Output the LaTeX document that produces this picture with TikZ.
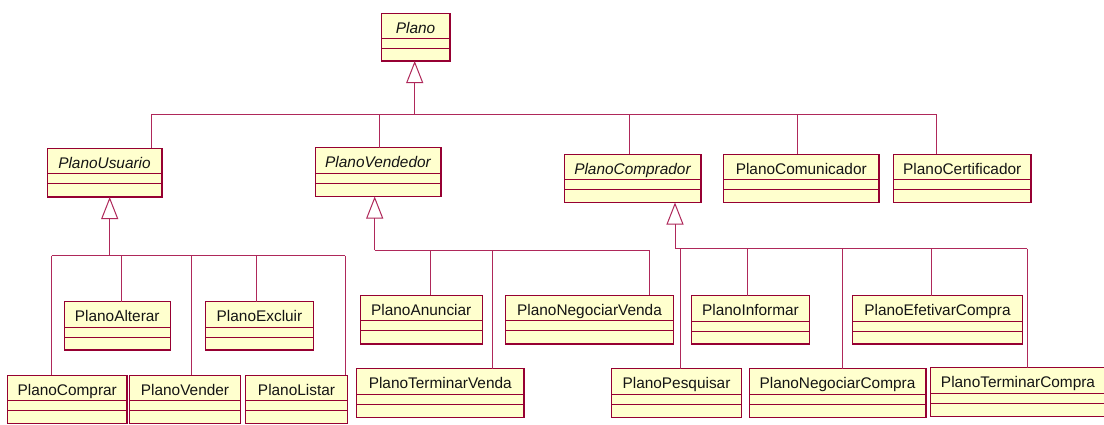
\documentclass[tikz,border=0pt]{standalone}
\usepackage{fontspec}
\setmainfont{Liberation Sans}
\usetikzlibrary{arrows.meta}

\definecolor{boxfill}{RGB}{255,255,206}
\definecolor{boxedge}{RGB}{150,0,50}
\definecolor{wire}{RGB}{175,40,90}
\definecolor{inktext}{RGB}{20,20,20}

\tikzset{
  classbox/.style={draw=boxedge, fill=boxfill, line width=1pt, inner sep=0pt, outer sep=0pt, rectangle},
  compline/.style={draw=boxedge, line width=0.9pt},
  edgeline/.style={draw=boxedge, line width=1.7pt},
  classname/.style={inner sep=0pt, anchor=base, text=inktext, font=\fontsize{15.4}{18}\selectfont},
  abstractname/.style={font=\fontsize{15.4}{18}\selectfont\itshape},
  conn/.style={draw=wire, line width=1pt},
  gen/.style={draw=wire, line width=1pt, -{Triangle[open,length=22pt,width=17pt,line width=1pt]}},
}

% class box: [name style] {node name} {left} {top} {right} {bottom} {label}
\newcommand\umlclass[7][]{%
  \node[classbox, anchor=north west,
        minimum width={(#5-#3)*1pt}, minimum height={(#6-#4)*1pt}] (#2) at (#3,#4) {};
  \draw[compline] ([yshift=-25.5pt]#2.north west) -- ([yshift=-25.5pt]#2.north east)
                  ([yshift=-35.5pt]#2.north west) -- ([yshift=-35.5pt]#2.north east);
  \draw[edgeline] (#2.north east) -- (#2.south east) -- (#2.south west);
  \node[classname,#1] (#2-name) at ([yshift=-20pt]#2.north) {#7};
}

\begin{document}
\begin{tikzpicture}[x=1pt,y=-1pt]
\fill[white] (0,0) rectangle (1104,424);
\useasboundingbox (0,0) rectangle (1104,424);

% root
\umlclass[abstractname]{plano}{381}{13}{450}{61}{Plano}

% second level
\umlclass[abstractname]{usuario}{47}{148}{162}{197}{PlanoUsuario}
\umlclass[abstractname]{vendedor}{315}{147.5}{441}{196.5}{PlanoVendedor}
\umlclass[abstractname]{comprador}{564}{154}{701}{202.5}{PlanoComprador}
\umlclass{comunicador}{723.5}{154}{879}{202.5}{PlanoComunicador}
\umlclass{certificador}{893.5}{154}{1031}{202.5}{PlanoCertificador}

% children of PlanoUsuario
\umlclass{alterar}{64}{301.5}{170.5}{350}{PlanoAlterar}
\umlclass{excluir}{205.5}{301.5}{313.5}{350}{PlanoExcluir}
\umlclass{comprar}{7.5}{375}{127}{423.5}{PlanoComprar}
\umlclass{vender}{129.5}{375}{240.5}{423.5}{PlanoVender}
\umlclass{listar}{245.5}{375}{347.5}{423.5}{PlanoListar}

% children of PlanoVendedor
\umlclass{anunciar}{360}{295}{482.5}{344}{PlanoAnunciar}
\umlclass{negvenda}{505.5}{295}{673.5}{344}{PlanoNegociarVenda}
\umlclass{termvenda}{356.5}{368.5}{524}{417.5}{PlanoTerminarVenda}

% children of PlanoComprador
\umlclass{informar}{691.5}{295.5}{809.5}{344}{PlanoInformar}
\umlclass{efetivar}{852.5}{295.5}{1022.5}{344}{PlanoEfetivarCompra}
\umlclass{pesquisar}{611.5}{368.5}{741.5}{417.5}{PlanoPesquisar}
\umlclass{negcompra}{749}{368.5}{926}{417.5}{PlanoNegociarCompra}
\umlclass{termcompra}{930}{367.5}{1106}{416.5}{PlanoTerminarCompra}

% --- generalization: Plano
\coordinate (p0) at (414.7,114);
\coordinate (pU) at (151,114);
\coordinate (pV) at (379.5,114);
\coordinate (pC) at (629.5,114);
\coordinate (pM) at (797.5,114);
\coordinate (pR) at (936.5,114);
\draw[gen] (p0) -- (p0 |- plano.south);
\draw[conn] (pU) -- (pR);
\foreach \b/\n in {pU/usuario,pV/vendedor,pC/comprador,pM/comunicador,pR/certificador}
  \draw[conn] (\b) -- (\b |- \n.north);

% --- generalization: PlanoUsuario
\coordinate (u0) at (109.7,255.7);
\coordinate (uA) at (51.7,255.7);
\coordinate (uB) at (121.7,255.7);
\coordinate (uC) at (191,255.7);
\coordinate (uD) at (256.7,255.7);
\coordinate (uE) at (345,255.7);
\draw[gen] (u0) -- (u0 |- usuario.south);
\draw[conn] (uA) -- (uE);
\foreach \b/\n in {uA/comprar,uB/alterar,uC/vender,uD/excluir,uE/listar}
  \draw[conn] (\b) -- (\b |- \n.north);

% --- generalization: PlanoVendedor
\coordinate (v0) at (374.7,250);
\coordinate (vA) at (430.3,250);
\coordinate (vB) at (492.7,250);
\coordinate (vC) at (649.3,250);
\draw[gen] (v0) -- (v0 |- vendedor.south);
\draw[conn] (v0) -- (vC);
\foreach \b/\n in {vA/anunciar,vB/termvenda,vC/negvenda}
  \draw[conn] (\b) -- (\b |- \n.north);

% --- generalization: PlanoComprador
\coordinate (c0) at (675,248.7);
\coordinate (cA) at (680.7,248.7);
\coordinate (cB) at (747.7,248.7);
\coordinate (cC) at (842.3,248.7);
\coordinate (cD) at (931.3,248.7);
\coordinate (cE) at (1027.3,248.7);
\draw[gen] (c0) -- (c0 |- comprador.south);
\draw[conn] (c0) -- (cE);
\foreach \b/\n in {cA/pesquisar,cB/informar,cC/negcompra,cD/efetivar,cE/termcompra}
  \draw[conn] (\b) -- (\b |- \n.north);
\end{tikzpicture}
\end{document}
